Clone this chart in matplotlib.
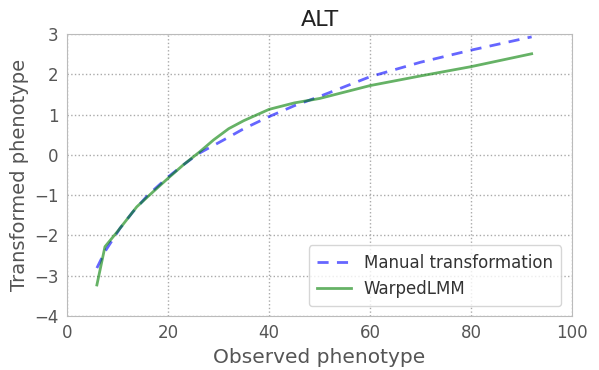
import matplotlib
matplotlib.use("Agg")
import matplotlib.pyplot as plt

# Manual transformation curve (observed -> transformed)
manual_x = [5.9, 7.5, 10.5, 13, 16, 20, 23, 26, 31, 35, 40, 45, 50, 60, 70, 80, 92]
manual_y = [-2.81, -2.4, -1.82, -1.42, -1.0, -0.55, -0.25, 0.03, 0.37, 0.65, 0.95, 1.22, 1.45, 1.94, 2.3, 2.6, 2.93]

# WarpedLMM learned warping function
warped_x = [5.9, 7.5, 10, 13.8, 17, 20, 23, 26.3, 29, 32, 35, 40, 45, 50, 60, 70, 80, 92]
warped_y = [-3.23, -2.28, -1.9, -1.29, -0.92, -0.58, -0.25, 0.08, 0.37, 0.65, 0.85, 1.13, 1.29, 1.4, 1.72, 1.96, 2.19, 2.51]

x_ticks = [0, 20, 40, 60, 80, 100]
y_ticks = [-4, -3, -2, -1, 0, 1, 2, 3]

fig = plt.figure(figsize=(5.99, 3.70), dpi=100)
ax = fig.add_axes([0.112, 0.146, 0.843, 0.762])

ax.plot(manual_x, manual_y, color="blue", alpha=0.6, lw=2, ls="--", dashes=(4, 3),
        label="Manual transformation")
ax.plot(warped_x, warped_y, color="green", alpha=0.6, lw=2, label="WarpedLMM")

ax.set_xlim(0, 100)
ax.set_ylim(-4, 3)
ax.set_xticks(x_ticks)
ax.set_yticks(y_ticks)
ax.grid(True, ls=":", color="#aaaaaa", lw=1)

for s in ax.spines.values():
    s.set_color("#bbbbbb")
ax.tick_params(length=0, labelsize=12, labelcolor="#555555", pad=6)

ax.set_title("ALT", fontsize=16, color="#222222")
ax.set_xlabel("Observed phenotype", fontsize=14.5, color="#555555")
ax.set_ylabel("Transformed phenotype", fontsize=14, color="#555555")

leg = ax.legend(loc="lower right", fontsize=12, frameon=True, fancybox=True,
                handlelength=2.0, borderpad=0.5, bbox_to_anchor=(0.995, 0.005))
leg.get_frame().set_edgecolor("#cccccc")
for t in leg.get_texts():
    t.set_color("#333333")

fig.savefig("out.png", dpi=100)
